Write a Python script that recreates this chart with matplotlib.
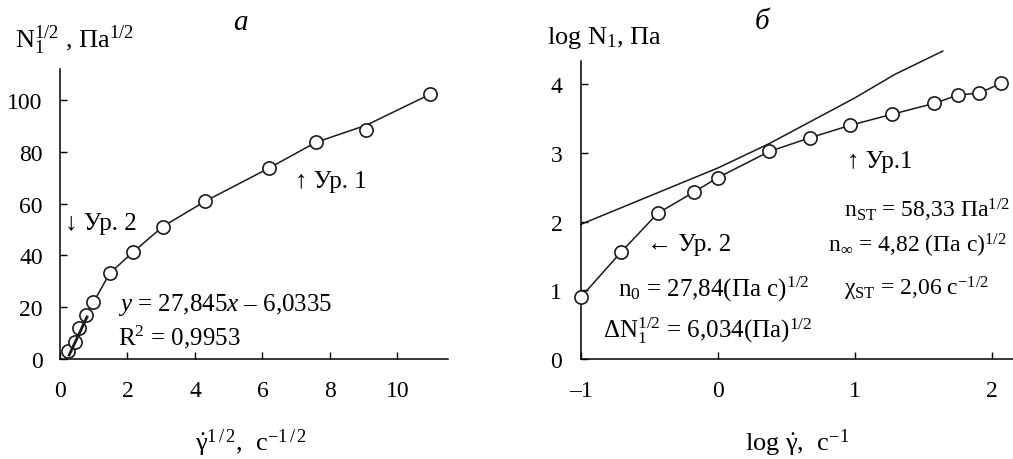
import numpy as np
import matplotlib
matplotlib.use('Agg')
import matplotlib.pyplot as plt

plt.rcParams['font.family'] = ['Liberation Serif', 'DejaVu Serif']
plt.rcParams['mathtext.fontset'] = 'custom'
plt.rcParams['mathtext.rm'] = 'Liberation Serif'
plt.rcParams['mathtext.it'] = 'Liberation Serif:italic'
plt.rcParams['mathtext.bf'] = 'Liberation Serif:bold'

## panel a: sqrt(N1) against sqrt(shear rate)
a_x = [0.25, 0.45, 0.57, 0.77, 0.99, 1.48, 2.16, 3.04, 4.30, 6.19, 7.59, 9.08, 10.98]
a_y = [3.2, 6.7, 11.8, 17.1, 21.9, 33.2, 41.2, 51.1, 60.9, 73.7, 83.7, 88.4, 102.3]
# curve of Ур. 1
a_curve_x = [0.77, 0.99, 1.48, 2.16, 3.04, 4.30, 6.19, 7.59, 9.08, 10.98]
a_curve_y = [17.1, 21.9, 33.2, 41.2, 51.1, 60.9, 73.7, 83.7, 90.3, 102.3]
# linear fit at low rates (Ур. 2)
fit_slope = 27.845
fit_icpt = -6.0335
fit_x = [0.27, 0.80]

## panel b: log N1 against log shear rate
b_x = [-1.0, -0.71, -0.44, -0.175, 0.0, 0.375, 0.674, 0.964, 1.27, 1.58, 1.75, 1.905, 2.066]
b_y = [0.90, 1.55, 2.12, 2.43, 2.64, 3.02, 3.22, 3.40, 3.56, 3.72, 3.84, 3.87, 4.01]
b_line_x = [-1.0, -0.5, 0.0, 0.37, 1.0, 1.29, 1.64]
b_line_y = [1.96, 2.37, 2.78, 3.13, 3.80, 4.14, 4.48]

W, H = 1013, 460
fig = plt.figure(figsize=(W / 100, H / 100), dpi=100)

lw = 1.1
tick_fs = 17
note_fs = 18
label_fs = 19
mk = dict(marker='o', markersize=9.5, markerfacecolor='white',
          markeredgecolor='#1a1a1a', markeredgewidth=1.2, clip_on=False)

## ---- panel a ----
ax1 = fig.add_axes([60 / W, 1 - 360 / H, 388 / W, 290 / H])
ax1.plot(a_curve_x, a_curve_y, color='#1a1a1a', lw=lw, zorder=2)
fx = np.array(fit_x)
ax1.plot(fx, fit_slope * fx + fit_icpt, color='#1a1a1a', lw=2.0, zorder=4)
ax1.plot(a_x, a_y, linestyle='none', zorder=3, **mk)
ax1.set_xlim(0, 11.5)
ax1.set_ylim(0, 112)
ax1.set_xticks([0, 2, 4, 6, 8, 10])
ax1.set_yticks([0, 20, 40, 60, 80, 100])
ax1.tick_params(axis='x', direction='in', length=5, width=1, labelsize=tick_fs, pad=15)
ax1.tick_params(axis='y', direction='in', length=5, width=1, labelsize=tick_fs, pad=12.5)

ax1.text(0.15, 52.5, '↓ Ур. 2', fontsize=note_fs, va='center')
ax1.text(6.97, 68.7, '↑ Ур. 1', fontsize=note_fs, va='center')
ax1.text(1.72, 21.2, '$y$ = 27,845$x$ – 6,0335', fontsize=note_fs, va='center')
ax1.text(1.72, 8.9, 'R$^{2}$ = 0,9953', fontsize=note_fs, va='center')

## ---- panel b ----
ax2 = fig.add_axes([581 / W, 1 - 360 / H, 432 / W, 298.3 / H])
ax2.plot(b_line_x, b_line_y, color='#1a1a1a', lw=lw, clip_on=False, zorder=2)
ax2.plot(b_x, b_y, color='#1a1a1a', lw=lw, zorder=3, **mk)
ax2.set_xlim(-1, 2.153)
ax2.set_ylim(0, 4.34)
ax2.set_xticks([-1, 0, 1, 2])
ax2.set_xticklabels(['–1', '0', '1', '2'])
ax2.set_yticks([0, 1, 2, 3, 4])
ax2.tick_params(axis='x', direction='in', length=5, width=1, labelsize=tick_fs, pad=15)
ax2.tick_params(axis='y', direction='in', length=5, width=1, labelsize=tick_fs, pad=13.5)

ax2.text(0.94, 2.88, '↑ Ур.1', fontsize=note_fs, va='center')
ax2.text(0.92, 2.17, r'n$_{\rm ST}$ = 58,33 Па$^{1/2}$', fontsize=17, va='center')
ax2.text(0.80, 1.66, r'n$_{\infty}$ = 4,82 (Па с)$^{1/2}$', fontsize=17, va='center')
ax2.text(0.92, 1.03, r'χ$_{\rm ST}$ = 2,06 с$^{-1/2}$', fontsize=17, va='center')
ax2.text(-0.518, 1.67, '← Ур. 2', fontsize=note_fs, va='center')
ax2.text(-0.73, 1.03, r'n$_{0}$ = 27,84(Па с)$^{1/2}$', fontsize=note_fs, va='center')
ax2.text(-0.84, 0.43, r'ΔN$_{1}^{1/2}$ = 6,034(Па)$^{1/2}$', fontsize=note_fs, va='center')

for ax in (ax1, ax2):
    ax.spines['top'].set_visible(False)
    ax.spines['right'].set_visible(False)
    for s in ('left', 'bottom'):
        ax.spines[s].set_linewidth(1.1)
    ax.patch.set_alpha(0)

## axis titles and panel letters
fig.text(15 / W, 1 - 40 / H, r'N$_{1}^{1/2}$ , Па$^{1/2}$', fontsize=label_fs, va='center')
fig.text(547 / W, 1 - 38 / H, r'log N$_{1}$, Па', fontsize=label_fs, va='center')
fig.text(251 / W, 1 - 443 / H, r'$\dot{\mathrm{\gamma}}^{1\,/\,2}$,  с$^{-1\,/\,2}$',
         fontsize=label_fs, ha='center', va='center')
fig.text(797 / W, 1 - 443 / H, r'log $\dot{\mathrm{\gamma}}$,  с$^{-1}$', fontsize=label_fs,
         ha='center', va='center')
fig.text(240 / W, 1 - 23 / H, 'а', fontsize=21, style='italic', ha='center', va='center')
fig.text(762 / W, 1 - 22 / H, 'б', fontsize=21, style='italic', ha='center', va='center')

fig.savefig('out.png', dpi=100)
